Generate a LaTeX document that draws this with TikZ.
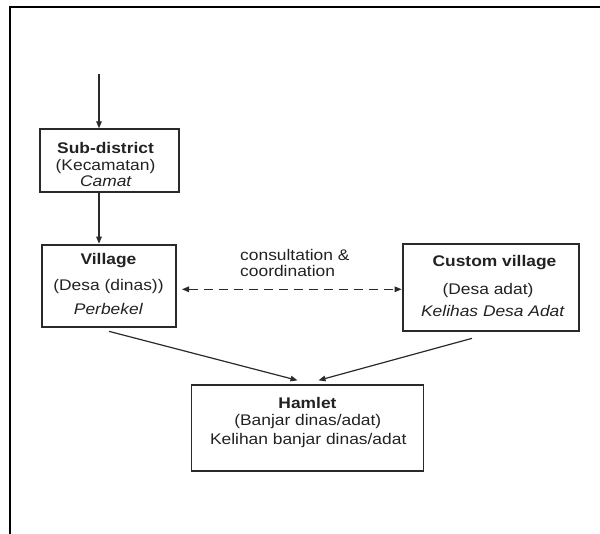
\documentclass[tikz,border=0pt]{standalone}
\usepackage{fontspec}
\setmainfont{Liberation Sans}[FakeStretch=1.13]
\usetikzlibrary{arrows.meta}
\definecolor{ink}{HTML}{222222}
\definecolor{linec}{HTML}{2A2A2A}
\tikzset{
  thinbox/.style={draw=linec, line width=1.3pt, inner sep=0pt, fill=white},
  thickbox/.style={draw=linec, line width=2.7pt, inner sep=0pt, fill=white},
  txt/.style={inner sep=0pt, text=ink, font=\fontsize{15.4pt}{18pt}\selectfont, anchor=base},
  txtw/.style={txt, anchor=base west},
  arr/.style={draw=linec, line width=1.2pt, -{Triangle[length=7pt,width=5.5pt]}},
  darr/.style={draw=linec, line width=1.2pt, dash pattern=on 9pt off 6pt,
    {Triangle[length=7pt,width=5.5pt]}-{Triangle[length=7pt,width=5.5pt]}},
  frame/.style={draw=black, line width=1.5pt}
}
\begin{document}
\begin{tikzpicture}[x=1pt,y=-1pt]
\useasboundingbox (0,0) rectangle (600,534);
\fill[white] (0,0) rectangle (600,534);
% outer frame (top and left edges)
\coordinate (fl) at (10,534);
\coordinate (fc) at (10,7);
\coordinate (fr) at (600,7);
\draw[frame] (fl) -- (fc) -- (fr);

% boxes
\node[thinbox, minimum width=139pt, minimum height=63pt] (sub) at (109.5,160.5) {};
\node[thickbox, minimum width=134pt, minimum height=82pt] (vil) at (109,286) {};
\node[thickbox, minimum width=176pt, minimum height=87pt] (cus) at (491,287.5) {};
\node[thinbox, minimum width=232pt, minimum height=86pt] (ham) at (307.5,428) {};

% texts
\node[txt] (subA) at (105.5,154) {\textbf{Sub-district}};
\node[txt] (subB) at (105.5,170.5) {(Kecamatan)};
\node[txt] (subC) at (106,187) {\textit{Camat}};

\node[txt] (vilA) at (108.5,264.5) {\textbf{Village}};
\node[txt] (vilB) at (108.5,291) {(Desa (dinas))};
\node[txt] (vilC) at (108.5,315) {\textit{Perbekel}};

\node[txt] (cusA) at (494.5,267) {\textbf{Custom village}};
\node[txt] (cusB) at (488,294.5) {(Desa adat)};
\node[txt] (cusC) at (493,317) {\textit{Kelihas Desa Adat}};

\node[txtw] (labA) at (240,260.5) {consultation \&};
\node[txtw] (labB) at (240,277) {coordination};

\node[txt] (hamA) at (307.5,408.5) {\textbf{Hamlet}};
\node[txt] (hamB) at (307.8,425.8) {(Banjar dinas/adat)};
\node[txt] (hamC) at (308.2,444.3) {Kelihan banjar dinas/adat};

% connectors
\coordinate (top) at (99,74);
\draw[arr] (top) -- (top |- sub.north);
\draw[arr] (sub.south -| top) -- (vil.north -| top);
\coordinate (dl) at (182,289.3);
\draw[darr] (dl) -- (dl -| cus.west);
\draw[arr] ([yshift=-3pt]vil.south) -- ([xshift=-10pt,yshift=4pt]ham.north);
\draw[arr] ([xshift=-19pt,yshift=-6pt]cus.south) -- ([xshift=11pt,yshift=4pt]ham.north);
\end{tikzpicture}
\end{document}
